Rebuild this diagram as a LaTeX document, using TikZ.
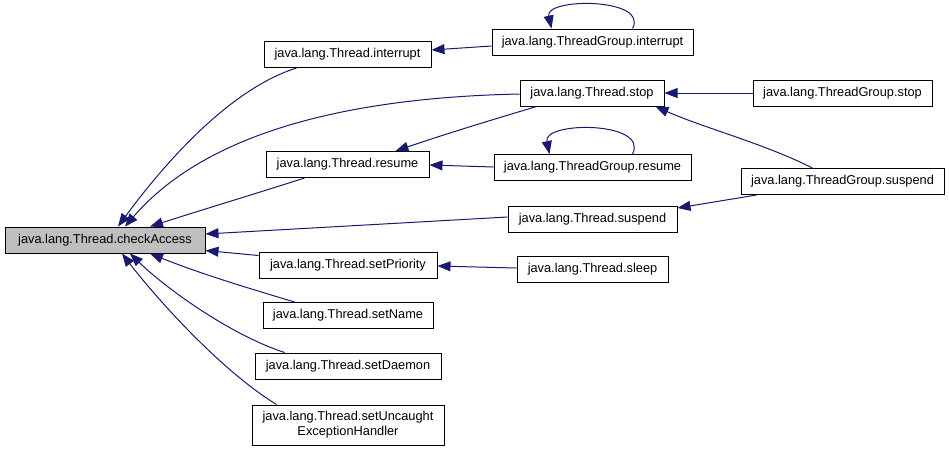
\documentclass[tikz,border=0pt]{standalone}
\usepackage{fontspec}
\setmainfont{Liberation Sans}
\usetikzlibrary{arrows.meta}
\definecolor{edgeblue}{HTML}{191970}
\definecolor{nodegray}{HTML}{BFBFBF}
\tikzset{
  fn/.style={draw=black, line width=1pt, fill=white, rectangle, inner sep=0pt,
    minimum height=26pt, align=center, font=\fontsize{12.8}{15}\selectfont},
  edge/.style={draw=edgeblue, line width=1pt,
    -{Triangle[length=13pt,width=10pt]}, fill=none},
}
\begin{document}
\begin{tikzpicture}[x=1pt,y=-1pt]
\useasboundingbox (0,0) rectangle (949,451);
% nodes
\node[fn, fill=nodegray, minimum width=200pt] (ca) at (105,240) {java.lang.Thread.checkAccess};
\node[fn, minimum width=167pt] (ti) at (347.5,54.5) {java.lang.Thread.interrupt};
\node[fn, minimum width=163pt] (tr) at (347.5,164.5) {java.lang.Thread.resume};
\node[fn, minimum width=201pt] (tgi) at (592.5,42) {java.lang.ThreadGroup.interrupt};
\node[fn, minimum width=144pt] (ts) at (592,93) {java.lang.Thread.stop};
\node[fn, minimum width=179pt] (tgs) at (842.5,93) {java.lang.ThreadGroup.stop};
\node[fn, minimum width=197pt] (tgr) at (592.5,167.5) {java.lang.ThreadGroup.resume};
\node[fn, minimum width=203pt] (tgsu) at (842.5,181.5) {java.lang.ThreadGroup.suspend};
\node[fn, minimum width=169pt] (tsu) at (592.5,219) {java.lang.Thread.suspend};
\node[fn, minimum width=178pt] (tsp) at (348,265) {java.lang.Thread.setPriority};
\node[fn, minimum width=151pt] (tsl) at (592.5,269) {java.lang.Thread.sleep};
\node[fn, minimum width=170pt] (tsn) at (348,315.5) {java.lang.Thread.setName};
\node[fn, minimum width=186pt] (tsd) at (348,366) {java.lang.Thread.setDaemon};
\node[fn, minimum width=192pt, minimum height=40pt] (tsx) at (348,425) {java.lang.Thread.setUncaught\\ExceptionHandler};
% edges into checkAccess
\draw[edge] ([xshift=33pt]ti.south west) .. controls +(-70,22) and +(42,-57) .. ([xshift=13pt]ca.north);
\draw[edge] ([yshift=-1pt]ts.west) .. controls +(-190,4) and +(75,-87) .. ([xshift=20pt]ca.north);
\draw[edge] ([xshift=39pt]tr.south west) .. controls +(-50,16) and +(50,-16) .. ([xshift=45pt]ca.north);
\draw[edge] ([yshift=2pt]tsu.west) -- ([yshift=6pt]ca.east);
\draw[edge] ([yshift=-4pt]tsp.north west) -- ([yshift=3pt]ca.south east);
\draw[edge] ([xshift=32pt]tsn.north west) .. controls +(-50,-15) and +(50,20) .. ([xshift=45pt]ca.south);
\draw[edge] ([xshift=30pt]tsd.north west) .. controls +(-55,-18) and +(35,34) .. ([xshift=25pt]ca.south);
\draw[edge] ([xshift=25pt]tsx.north west) .. controls +(-57,-35) and +(33,43) .. ([xshift=17pt]ca.south);
% other edges
\draw[edge] ([yshift=-4pt]tgi.west) -- ([yshift=4.5pt]ti.east);
\draw[edge] ([xshift=17pt]ts.south west) .. controls +(-50,15) and +(50,-17) .. ([xshift=48pt]tr.north);
\draw[edge] ([yshift=0.5pt]tgr.west) -- ([yshift=-0.5pt]tr.east);
\draw[edge] (tgs.west) -- (ts.east);
\draw[edge] ([xshift=72pt]tgsu.north west) .. controls +(-50,-25) and +(50,22) .. ([xshift=-9pt]ts.south east);
\draw[edge] ([xshift=16pt]tgsu.south west) -- ([yshift=11pt]tsu.east);
\draw[edge] ([yshift=1pt]tsl.west) -- ([yshift=-1pt]tsp.east);
% self loops
\draw[edge] ([xshift=40pt]tgi.north) .. controls +(17,-31) and +(-7,-31) .. ([xshift=-41pt]tgi.north);
\draw[edge] ([xshift=40pt]tgr.north) .. controls +(17,-33) and +(-7,-33) .. ([xshift=-43pt]tgr.north);
\end{tikzpicture}
\end{document}
